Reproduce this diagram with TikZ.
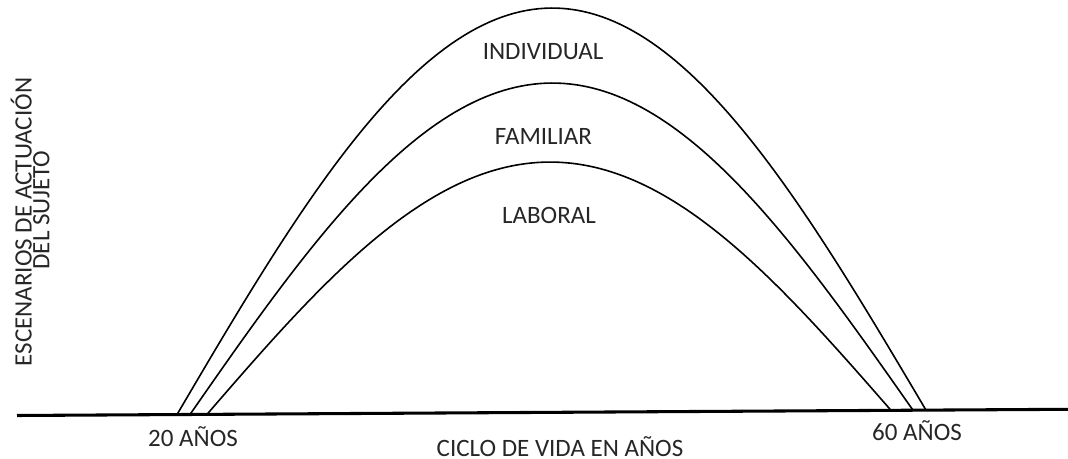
\documentclass[tikz,border=0pt]{standalone}
\usepackage{fontspec}
\setmainfont{Carlito}
\begin{document}
\begin{tikzpicture}[x=0.75pt,y=-0.75pt,
  lbl/.style={font=\fontsize{18.75}{22}\selectfont, inner sep=0pt, anchor=base, text=black!85},
  axisline/.style={line width=2.3pt, black},
  arcline/.style={line width=1.2pt, black}]
\useasboundingbox (0,0) rectangle (1068,459);
% base line
\coordinate (axL) at (17,415.5);
\coordinate (axR) at (1068,409.3);
\draw[axisline] (axL) -- (axR);
% arcs
\foreach \xl/\xr/\h in {177/926/404.3,190/913/329.3,207/891/250.3} {
  \draw[arcline] plot[domain=0:1, samples=121, variable=\s]
    ({\xl+(\xr-\xl)*\s},
     {415.5-6.2*(\xl+(\xr-\xl)*\s-17)/1051 - \h*cos(90*(2*\s-1))});
}
% labels
\node[lbl] (ind) at (543,59.3) {INDIVIDUAL};
\node[lbl] (fam) at (543.5,145) {FAMILIAR};
\node[lbl] (lab) at (549,224) {LABORAL};
\node[lbl] (a20) at (193,446.7) {20 AÑOS};
\node[lbl] (a60) at (917,441) {60 AÑOS};
\node[lbl] (ciclo) at (560,456.5) {CICLO DE VIDA EN AÑOS};
\node[lbl, rotate=90] (esc1) at (31.7,222) {ESCENARIOS DE ACTUACIÓN};
\node[lbl, rotate=90] (esc2) at (49.3,210) {DEL SUJETO};
\end{tikzpicture}
\end{document}
